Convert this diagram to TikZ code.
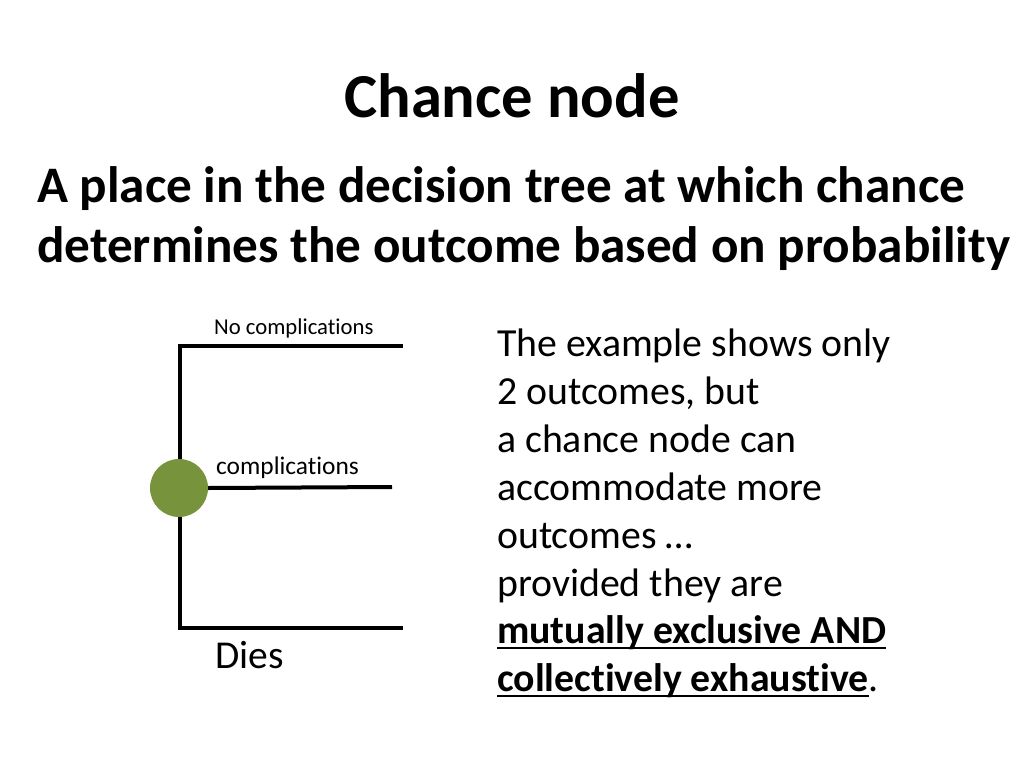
\documentclass[tikz,border=0pt]{standalone}
\usepackage{fontspec}
\setmainfont{Carlito}[Ligatures=NoCommon]
\definecolor{olive}{HTML}{77933C}
\begin{document}
\begin{tikzpicture}[x=1pt,y=-1pt,
  treeline/.style={line width=4pt, line cap=rect},
  txt/.style={inner sep=0pt, anchor=base west},
  body/.style={txt, font=\fontsize{39.8}{48}\selectfont, align=left},
  uline/.style={line width=2.2pt},
]
\useasboundingbox (0,0) rectangle (1024,768);
\fill[white] (0,0) rectangle (1024,768);
\node[inner sep=0pt, anchor=base, font=\fontsize{62.6}{72}\selectfont\bfseries] (title) at (512,117) {Chance node};
\node[txt, font=\fontsize{51.2}{60}\selectfont\bfseries] (sub1) at (37,202) {A place in the decision tree at which chance};
\node[txt, font=\fontsize{51.2}{60}\selectfont\bfseries] (sub2) at (37,262) {determines the outcome based on probability};
% tree
\coordinate (tl) at (180,346);
\coordinate (tr) at (401,346);
\coordinate (bl) at (180,628);
\coordinate (br) at (401,628);
\coordinate (mr) at (392,487);
\draw[treeline] (tr) -- (tl) -- (bl) -- (br);
\node[circle, fill=olive, minimum size=58pt, inner sep=0pt] (chance) at (179,488) {};
\draw[treeline, line cap=butt] (chance.east) -- (mr);
\node[txt, font=\fontsize{22.7}{26}\selectfont] (l1) at (214,334) {No complications};
\node[txt, font=\fontsize{25.4}{30}\selectfont] (l2) at (216,474) {complications};
\node[txt, font=\fontsize{39.5}{44}\selectfont] (l3) at (215,668) {Dies};
% right text
\node[body] (r1) at (497,356) {The example shows only};
\node[body] (r2) at (497,404) {2 outcomes, but};
\node[body] (r3) at (497,452) {a chance node can};
\node[body] (r4) at (497,500) {accommodate more};
\node[body] (r5) at (497,548) {outcomes …};
\node[body] (r6) at (497,596) {provided they are};
\node[body] (r7) at (497,643) {\textbf{mutually exclusive AND}};
\node[body] (r8) at (497,691) {\textbf{collectively exhaustive}};
\node[body, anchor=base west] (r8p) at (r8.base east) {.};
\draw[uline] ([yshift=-5pt]r7.base west) -- ([yshift=-5pt]r7.base east);
\draw[uline] ([yshift=-5pt]r8.base west) -- ([yshift=-5pt]r8.base east);
\end{tikzpicture}
\end{document}
